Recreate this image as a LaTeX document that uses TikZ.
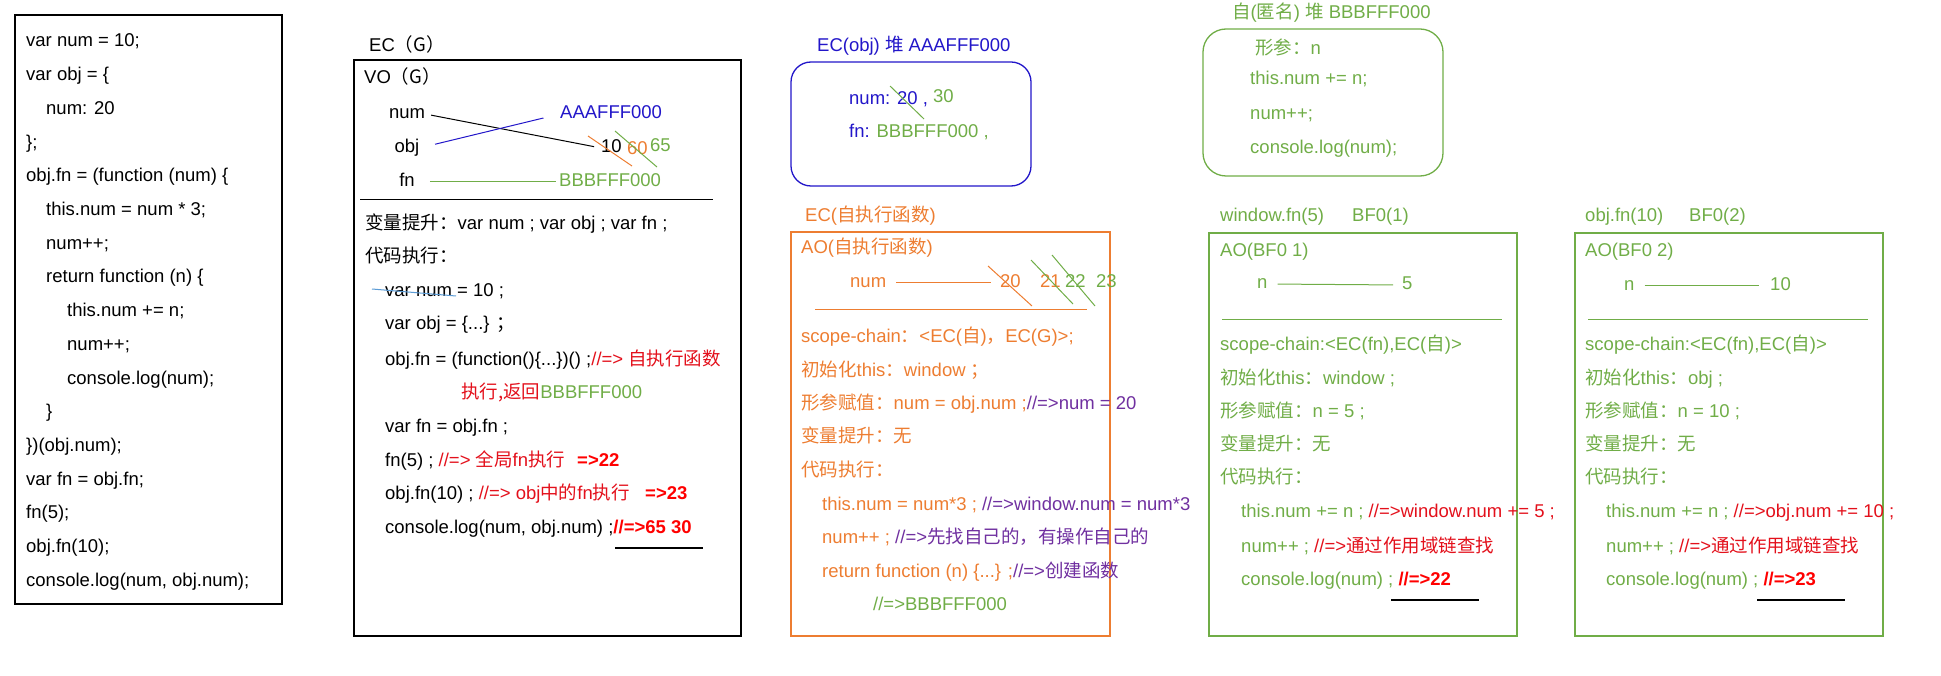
\documentclass[tikz,border=0pt]{standalone}
\usepackage{fontspec}
\setmainfont{Liberation Sans}
\newfontfamily\cjkfont{Noto Sans CJK SC}
\newcommand\zhs[1]{{\cjkfont #1}}
\definecolor{cblue}{HTML}{2216C9}
\definecolor{cgreen}{HTML}{70AD47}
\definecolor{corange}{HTML}{ED7D31}
\definecolor{cpurple}{HTML}{7030A0}
\definecolor{cred}{HTML}{E3101B}
\definecolor{cbred}{HTML}{FF0000}
\definecolor{clblue}{HTML}{5B9BD5}
\begin{document}
\begin{tikzpicture}[x=1pt,y=-1pt,
  every node/.style={inner sep=0pt, text height=13.5pt, text depth=3.5pt, font=\fontsize{18.5}{22}\selectfont},
  txt/.style={anchor=west},
  frame/.style={line width=1.3pt},
  thinline/.style={line width=1pt},
  uline/.style={line width=2pt},
  bred/.style={text=cbred, font=\fontsize{18.5}{22}\selectfont\bfseries}]
\useasboundingbox (0,0) rectangle (1941,676);

% ---------- left code box ----------
\draw[frame] (15,15) rectangle (282,604);
\node[txt] (L1)  at (26,42)    {var num = 10;};
\node[txt] (L2)  at (26,75.7)  {var obj = \{};
\node[txt] (L3)  at (46,109.4) {num: 20};
\node[txt] (L4)  at (26,143.1) {\};};
\node[txt] (L5)  at (26,176.8) {obj.fn = (function (num) \{};
\node[txt] (L6)  at (46,210.5) {this.num = num * 3;};
\node[txt] (L7)  at (46,244.2) {num++;};
\node[txt] (L8)  at (46,277.9) {return function (n) \{};
\node[txt] (L9)  at (67,311.6) {this.num += n;};
\node[txt] (L10) at (67,345.3) {num++;};
\node[txt] (L11) at (67,379)   {console.log(num);};
\node[txt] (L12) at (46,412.7) {\}};
\node[txt] (L13) at (26,446.4) {\})(obj.num);};
\node[txt] (L14) at (26,480.1) {var fn = obj.fn;};
\node[txt] (L15) at (26,513.8) {fn(5);};
\node[txt] (L16) at (26,547.5) {obj.fn(10);};
\node[txt] (L17) at (26,581.2) {console.log(num, obj.num);};

% ---------- EC(G) ----------
\node[txt] (ecg) at (369,47) {EC\zhs{（G）}};
\draw[frame] (354,60) rectangle (741,636);
\node[txt] (vog) at (364,79) {VO\zhs{（G）}};
\node (vnum) at (407,114) {num};
\node (vobj) at (407,148) {obj};
\node (vfn)  at (407,182) {fn};
\node[txt, text=cblue] (aaa) at (560,114) {AAAFFF000};
\node[txt] (ten) at (601,148) {10};
\node[txt, text=corange] (sixty) at (627,150) {60};
\node[txt, text=cgreen] (sixtyfive) at (650,147) {65};
\node[txt, text=cgreen] (bbb) at (559,182) {BBBFFF000};
\draw[thinline, shorten <=6pt, shorten >=7pt] (vnum.east) -- (ten.west);
\draw[thinline, cblue, shorten <=16pt, shorten >=17pt] (vobj.east) -- (aaa.west);
\draw[thinline, cgreen, shorten <=15pt, shorten >=3pt] (vfn.east) -- (bbb.west);
\draw[thinline, corange] (588,136) -- (632,166);
\draw[thinline, cgreen] (615,131) -- (657,167);
\draw[thinline] (360,199.5) -- (713,199.5);
\node[txt] (g1) at (365,225) {\zhs{变量提升：}var num ; var obj ; var fn ;};
\node[txt] (g2) at (365,258) {\zhs{代码执行：}};
\node[txt] (g3) at (385,292) {var num = 10 ;};
\draw[thinline, clblue] (372,289) -- (456,296);
\node[txt] (g4) at (385,325) {var obj = \{...\} \zhs{；}};
\node[txt] (g5) at (385,360) {obj.fn = (function()\{...\})() ;\textcolor{cred}{//=> \zhs{自执行函数}}};
\node[txt, text=cred] (g6) at (461,393) {\zhs{执行,返回}\textcolor{cgreen}{BBBFFF000}};
\node[txt] (g7) at (385,427) {var fn = obj.fn ;};
\node[txt] (g8) at (385,461) {fn(5) ; \textcolor{cred}{//=> \zhs{全局}fn\zhs{执行}}};
\node[txt, bred] (g8b) at (577,461) {=>22};
\node[txt] (g9) at (385,494) {obj.fn(10) ; \textcolor{cred}{//=> obj\zhs{中的}fn\zhs{执行}}};
\node[txt, bred] (g9b) at (645,494) {=>23};
\node[txt] (g10) at (385,528) {console.log(num, obj.num) ;\textcolor{cbred}{\bfseries //=>65 30}};
\draw[uline] (615,548) -- (703,548);

% ---------- EC(obj) heap ----------
\node[txt, text=cblue] (ecobj) at (817,47) {EC(obj) \zhs{堆} AAAFFF000};
\draw[frame, cblue, rounded corners=20pt] (791,62) rectangle (1031,186);
\node[txt, text=cblue] (onum) at (849,100) {num: 20 , \textcolor{cgreen}{\raisebox{2pt}{30}}};
\draw[thinline, cgreen] (890,86) -- (924,119);
\node[txt, text=cblue] (ofn) at (849,133) {fn: \textcolor{cgreen}{BBBFFF000 ,}};

% ---------- anonymous function heap ----------
\node[txt, text=cgreen] (anon) at (1232,14) {\zhs{自}(\zhs{匿名}) \zhs{堆} BBBFFF000};
\draw[frame, cgreen, rounded corners=23pt] (1203,29) rectangle (1443,176);
\node[txt, text=cgreen] (a1) at (1255,50)  {\zhs{形参：}n};
\node[txt, text=cgreen] (a2) at (1250,80)  {this.num += n;};
\node[txt, text=cgreen] (a3) at (1250,115) {num++;};
\node[txt, text=cgreen] (a4) at (1250,149) {console.log(num);};

% ---------- EC(self-executing) ----------
\node[txt, text=corange] (ecself) at (805,217) {EC(\zhs{自执行函数})};
\draw[frame, corange] (791,232) rectangle (1110,636);
\node[txt, text=corange] (ao) at (801,249) {AO(\zhs{自执行函数})};
\node[txt, text=corange] (onum2) at (850,283) {num};
\node[txt, text=corange] (v20) at (1000,283) {20};
\node[txt, text=corange] (v21) at (1040,283) {21};
\node[txt, text=cgreen] (v22) at (1065,283) {22};
\node[txt, text=cgreen] (v23) at (1096,283) {23};
\draw[thinline, corange, shorten <=10pt, shorten >=9pt] (onum2.east) -- (v20.west);
\draw[thinline, corange] (988,266) -- (1032,306);
\draw[thinline, cgreen] (1031,260) -- (1073,304);
\draw[thinline, cgreen] (1052,255) -- (1095,306);
\draw[thinline, corange] (815,310) -- (1087,310);
\node[txt, text=corange] (o1) at (801,337) {scope-chain\zhs{：}<EC(\zhs{自})\zhs{，}EC(G)>;};
\node[txt, text=corange] (o2) at (801,371) {\zhs{初始化}this\zhs{：}window \zhs{；}};
\node[txt, text=corange] (o3) at (801,404) {\zhs{形参赋值：}num = obj.num ;\textcolor{cpurple}{//=>num = 20}};
\node[txt, text=corange] (o4) at (801,437.5) {\zhs{变量提升：无}};
\node[txt, text=corange] (o5) at (801,471) {\zhs{代码执行：}};
\node[txt, text=corange] (o6) at (822,505) {this.num = num*3 ; \textcolor{cpurple}{//=>window.num = num*3}};
\node[txt, text=corange] (o7) at (822,538) {num++ ; \textcolor{cpurple}{//=>\zhs{先找自己的，有操作自己的}}};
\node[txt, text=corange] (o8) at (822,572) {return function (n) \{...\} ;\textcolor{cpurple}{//=>\zhs{创建函数}}};
\node[txt, text=cgreen] (o9) at (873,605) {//=>BBBFFF000};

% ---------- window.fn(5) ----------
\node[txt, text=cgreen] (w0) at (1220,217) {window.fn(5)};
\node[txt, text=cgreen] (w0b) at (1352,217) {BF0(1)};
\draw[frame, cgreen] (1209,233) rectangle (1517,636);
\node[txt, text=cgreen] (w1) at (1220,252) {AO(BF0 1)};
\node[txt, text=cgreen] (wn) at (1257,284) {n};
\node[txt, text=cgreen] (wfive) at (1402,285) {5};
\draw[thinline, cgreen, shorten <=10pt, shorten >=9pt] (wn.east) -- (wfive.west);
\draw[thinline, cgreen] (1222,319.5) -- (1502,319.5);
\node[txt, text=cgreen] (w2) at (1220,345) {scope-chain:<EC(fn),EC(\zhs{自})>};
\node[txt, text=cgreen] (w3) at (1220,379) {\zhs{初始化}this\zhs{：}window ;};
\node[txt, text=cgreen] (w4) at (1220,412) {\zhs{形参赋值：}n = 5 ;};
\node[txt, text=cgreen] (w5) at (1220,445) {\zhs{变量提升：无}};
\node[txt, text=cgreen] (w6) at (1220,478.5) {\zhs{代码执行：}};
\node[txt, text=cgreen] (w7) at (1241,512.5) {this.num += n ; \textcolor{cred}{//=>window.num += 5 ;}};
\node[txt, text=cgreen] (w8) at (1241,547) {num++ ; \textcolor{cred}{//=>\zhs{通过作用域链查找}}};
\node[txt, text=cgreen] (w9) at (1241,580.5) {console.log(num) ; \textcolor{cbred}{\bfseries //=>22}};
\draw[uline] (1391,599.5) -- (1479,599.5);

% ---------- obj.fn(10) ----------
\node[txt, text=cgreen] (b0) at (1585,217) {obj.fn(10)};
\node[txt, text=cgreen] (b0b) at (1689,217) {BF0(2)};
\draw[frame, cgreen] (1575,233) rectangle (1883,636);
\node[txt, text=cgreen] (b1) at (1585,252) {AO(BF0 2)};
\node[txt, text=cgreen] (bn) at (1624,286) {n};
\node[txt, text=cgreen] (bten) at (1770,286) {10};
\draw[thinline, cgreen, shorten <=10pt, shorten >=11pt] (bn.east) -- (bten.west);
\draw[thinline, cgreen] (1588,319.5) -- (1868,319.5);
\node[txt, text=cgreen] (b2) at (1585,345) {scope-chain:<EC(fn),EC(\zhs{自})>};
\node[txt, text=cgreen] (b3) at (1585,379) {\zhs{初始化}this\zhs{：}obj ;};
\node[txt, text=cgreen] (b4) at (1585,412) {\zhs{形参赋值：}n = 10 ;};
\node[txt, text=cgreen] (b5) at (1585,445) {\zhs{变量提升：无}};
\node[txt, text=cgreen] (b6) at (1585,478.5) {\zhs{代码执行：}};
\node[txt, text=cgreen] (b7) at (1606,512.5) {this.num += n ; \textcolor{cred}{//=>obj.num += 10 ;}};
\node[txt, text=cgreen] (b8) at (1606,547) {num++ ; \textcolor{cred}{//=>\zhs{通过作用域链查找}}};
\node[txt, text=cgreen] (b9) at (1606,580.5) {console.log(num) ; \textcolor{cbred}{\bfseries //=>23}};
\draw[uline] (1757,599.5) -- (1845,599.5);
\end{tikzpicture}
\end{document}
